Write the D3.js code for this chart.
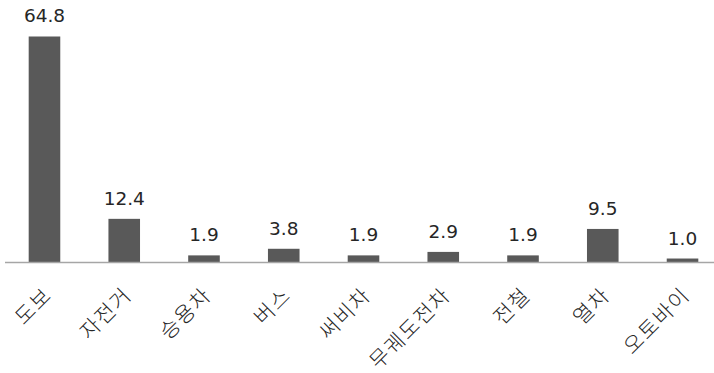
<!DOCTYPE html>
<html>
<head>
<meta charset="utf-8">
<script src="https://cdn.jsdelivr.net/npm/d3@7/dist/d3.min.js"></script>
<style>
  html, body { margin: 0; padding: 0; background: #fff; }
  svg { display: block; }
</style>
</head>
<body>
<svg id="chart" width="714" height="373"></svg>
<script>
// Transport mode shares (%)
const categories = ["도보", "자전거", "승용차", "버스", "써비차", "무궤도전차", "전철", "열차", "오토바이"];
const values = [64.8, 12.4, 1.9, 3.8, 1.9, 2.9, 1.9, 9.5, 1.0];
const valueLabels = ["64.8", "12.4", "1.9", "3.8", "1.9", "2.9", "1.9", "9.5", "1.0"];

const svg = d3.select("#chart");
const baseY = 262;

const x = d3.scaleBand()
  .domain(categories)
  .range([4.6, 722.4])
  .paddingInner(0.604)
  .paddingOuter(0.302);

const y = d3.scaleLinear()
  .domain([0, 70])
  .range([baseY, baseY - 70 * 3.48]);

const data = categories.map((c, i) => ({ c, v: values[i], label: valueLabels[i] }));

// bars
svg.append("g")
  .selectAll("rect")
  .data(data)
  .join("rect")
  .attr("x", d => x(d.c))
  .attr("y", d => y(d.v))
  .attr("width", x.bandwidth())
  .attr("height", d => y(0) - y(d.v))
  .attr("fill", "#595959");

// baseline axis
svg.append("line")
  .attr("x1", 5).attr("x2", 714)
  .attr("y1", baseY + 0.5).attr("y2", baseY + 0.5)
  .attr("stroke", "#a6a6a6")
  .attr("stroke-width", 1.5);

// value labels
svg.append("g")
  .selectAll("text")
  .data(data)
  .join("text")
  .attr("x", d => x(d.c) + x.bandwidth() / 2)
  .attr("y", d => y(d.v) - 14)
  .attr("text-anchor", "middle")
  .attr("font-family", "DejaVu Sans, Verdana, sans-serif")
  .attr("font-size", 18.5)
  .attr("fill", "#262626")
  .text(d => d.label);

// rotated category labels
svg.append("g")
  .selectAll("text")
  .data(data)
  .join("text")
  .attr("transform", d => `translate(${x(d.c) + x.bandwidth() / 2 - 4},${baseY + 22}) rotate(-45)`)
  .attr("text-anchor", "end")
  .attr("dy", "0.85em")
  .attr("font-family", "Noto Sans CJK KR, sans-serif")
  .attr("font-size", 21)
  .attr("font-weight", 300)
  .attr("letter-spacing", 1.5)
  .attr("fill", "#262626")
  .text(d => d.c);
</script>
</body>
</html>
